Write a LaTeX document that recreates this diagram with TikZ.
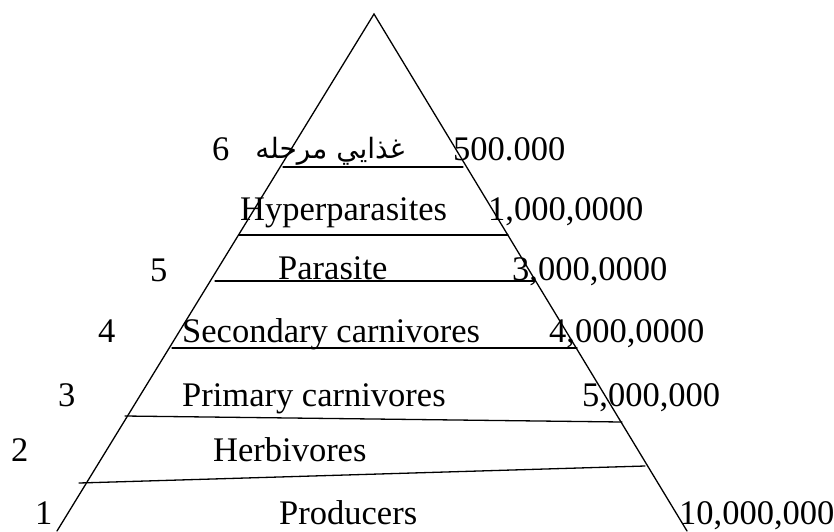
\documentclass[tikz,border=0pt]{standalone}
\usepackage{fontspec}
\setmainfont{Liberation Serif}
\newfontfamily\arabicfont[Script=Arabic]{DejaVu Sans}
\TeXXeTstate=1
\begin{document}
\begin{tikzpicture}[x=1pt,y=-1pt,
  lbl/.style={anchor=base west,inner sep=0pt,font=\fontsize{34.5}{40}\selectfont},
  edge/.style={line width=1.3pt,line cap=round}]
\useasboundingbox (0,0) rectangle (834,531);
% pyramid outline
\coordinate (apex) at (374,14);
\coordinate (bl) at (57,531);
\coordinate (br) at (687,531);
\draw[edge] (bl) -- (apex) -- (br);
% level separators
\coordinate (a6l) at (283,167); \coordinate (a6r) at (463,167);
\coordinate (a5l) at (239,235); \coordinate (a5r) at (508,235);
\coordinate (a4l) at (215,281); \coordinate (a4r) at (535,281);
\coordinate (a3l) at (172,348); \coordinate (a3r) at (577,348);
\coordinate (a2l) at (125,416); \coordinate (a2r) at (622,422);
\coordinate (a1l) at (79,483);  \coordinate (a1r) at (645,466);
\draw[edge] (a6l) -- (a6r);
\draw[edge] (a5l) -- (a5r);
\draw[edge] (a4l) -- (a4r);
\draw[edge] (a3l) -- (a3r);
\draw[edge] (a2l) -- (a2r);
\draw[edge] (a1l) -- (a1r);
% labels
\node[lbl] (n6) at (212,160) {6};
\node[anchor=base,inner sep=0pt] (t6) at (330,158) {\arabicfont\fontsize{28}{32}\selectfont\beginR غذايي مرحله\endR};
\node[lbl] (v6) at (453,160) {500.000};
\node[lbl] (t5) at (240,220) {Hyperparasites};
\node[lbl] (v5) at (488,220) {1,000,0000};
\node[lbl] (n5) at (150,281) {5};
\node[lbl] (t4) at (278,279) {Parasite};
\node[lbl] (v4) at (512,280) {3,000,0000};
\node[lbl] (n4) at (98,342) {4};
\node[lbl] (t3) at (182,342) {Secondary carnivores};
\node[lbl] (v3) at (549,342) {4,000,0000};
\node[lbl] (n3) at (58,406) {3};
\node[lbl] (t2) at (182,406) {Primary carnivores};
\node[lbl] (v2) at (582,406) {5,000,000};
\node[lbl] (n2) at (11,461) {2};
\node[lbl] (t1) at (213,461) {Herbivores};
\node[lbl] (n1) at (35,524) {1};
\node[lbl] (t0) at (279,524) {Producers};
\node[lbl] (v0) at (679,524) {10,000,000};
\end{tikzpicture}
\end{document}
